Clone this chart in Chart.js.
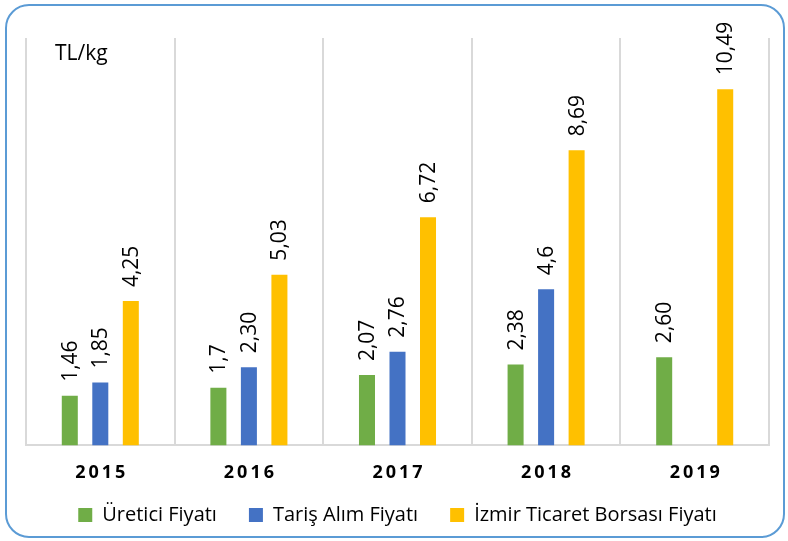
<!DOCTYPE html>
<html>
<head>
<meta charset="utf-8">
<script src="https://cdn.jsdelivr.net/npm/chart.js@4"></script>
<style>
  body { margin: 0; background: #ffffff; overflow: hidden; }
  #frame {
    position: absolute; left: 5px; top: 4px;
    width: 780px; height: 534px; box-sizing: border-box;
    border: 2px solid #5b9bd5; border-radius: 24px; background: #fff;
  }
  #chart-box { position: absolute; left: 7px; top: 6px; width: 776px; height: 534px; }
</style>
</head>
<body>
<div id="frame"></div>
<div id="chart-box"><canvas id="priceChart"></canvas></div>
<script>
// Data
const years = ["2015", "2016", "2017", "2018", "2019"];
const ureticiValues = [1.46, 1.7, 2.07, 2.38, 2.60];
const tarisValues = [1.85, 2.30, 2.76, 4.6, null];
const borsaValues = [4.25, 5.03, 6.72, 8.69, 10.49];

// labels as written on the chart
const ureticiLabels = ["1,46", "1,7", "2,07", "2,38", "2,60"];
const tarisLabels = ["1,85", "2,30", "2,76", "4,6", ""];
const borsaLabels = ["4,25", "5,03", "6,72", "8,69", "10,49"];

const FONT = "'Open Sans', 'Liberation Sans', sans-serif";

// Draw rotated value labels above bars
const valueLabels = {
    id: 'valueLabels',
    afterDatasetsDraw(chart) {
        const ctx = chart.ctx;
        chart.data.datasets.forEach((ds, i) => {
            const meta = chart.getDatasetMeta(i);
            meta.data.forEach((bar, j) => {
                const text = ds.valueText[j];
                if (!text || ds.data[j] == null) return;
                ctx.save();
                ctx.translate(bar.x + 1, bar.y - 14);
                ctx.rotate(-Math.PI / 2);
                ctx.font = "21px " + FONT;
                ctx.fillStyle = "#000000";
                ctx.textAlign = "left";
                ctx.textBaseline = "middle";
                ctx.fillText(text, 0, 0);
                ctx.restore();
            });
        });
    }
};

// Unit text in the top-left corner
const unitText = {
    id: 'unitText',
    afterDraw(chart) {
        const ctx = chart.ctx;
        ctx.save();
        ctx.font = "21px " + FONT;
        ctx.fillStyle = "#000000";
        ctx.textBaseline = "alphabetic";
        ctx.fillText("TL/kg", 48, 54);
        ctx.restore();
    }
};

// legend takes less height, and sits closer to the year labels
const legendFit = {
    id: 'legendFit',
    beforeInit(chart) {
        const legend = chart.legend;
        if (!legend || legend._patched) return;
        const origFit = legend.fit;
        legend.fit = function () {
            origFit.call(this);
            this.height -= 23;
        };
        legend._patched = true;
    },
    afterLayout(chart) {
        if (chart.legend) chart.legend.top -= 28;
    }
};

const ctx = document.getElementById("priceChart").getContext("2d");

new Chart(ctx, {
    type: "bar",
    data: {
        labels: years,
        datasets: [
            { label: "Üretici Fiyatı", data: ureticiValues, valueText: ureticiLabels, backgroundColor: "#70ad47" },
            { label: "Tariş Alım Fiyatı", data: tarisValues, valueText: tarisLabels, backgroundColor: "#4472c4" },
            { label: "İzmir Ticaret Borsası Fiyatı", data: borsaValues, valueText: borsaLabels, backgroundColor: "#ffc000" }
        ]
    },
    options: {
        responsive: true,
        maintainAspectRatio: false,
        animation: false,
        categoryPercentage: 0.616,
        barPercentage: 0.525,
        layout: { padding: { left: 19, right: 14, top: 32, bottom: 0 } },
        plugins: {
            legend: {
                position: "bottom",
                labels: {
                    boxWidth: 14,
                    boxHeight: 14,
                    padding: 32,
                    color: "#000000",
                    font: { family: FONT, size: 20 }
                }
            },
            tooltip: { enabled: false }
        },
        scales: {
            x: {
                grid: { color: "#d9d9d9", lineWidth: 2, drawTicks: false },
                border: { color: "#d9d9d9", width: 2 },
                ticks: {
                    padding: 17,
                    color: "#000000",
                    font: { family: FONT, size: 18, weight: "bold" },
                    callback: function (value) {
                        return this.getLabelForValue(value).split("").join("\u2009");
                    }
                }
            },
            y: {
                display: false,
                min: 0,
                max: 12
            }
        }
    },
    plugins: [valueLabels, unitText, legendFit]
});
</script>
</body>
</html>
